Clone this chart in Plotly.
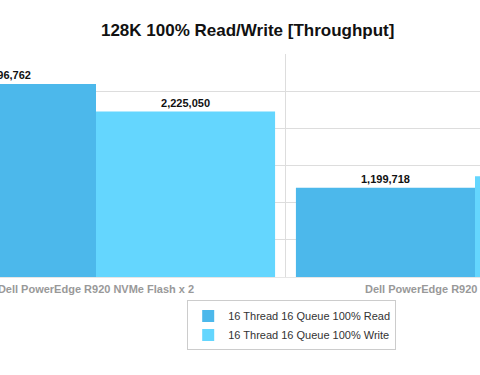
import plotly.graph_objects as go

categories = ["Dell PowerEdge R920 NVMe Flash x 2", "Dell PowerEdge R920 Competitor PCIe x 2"]
series_names = ["16 Thread 16 Queue 100% Read", "16 Thread 16 Queue 100% Write"]
read_values = [2596762, 1199718]
write_values = [2225050, 1356000]
colors = ["#4cb8eb", "#64d6fe"]

fig = go.Figure()
for name, vals, col in zip(series_names, [read_values, write_values], colors):
    fig.add_trace(go.Bar(
        x=categories, y=vals, name=name,
        marker=dict(color=col, line=dict(width=0)),
        text=[f"{v:,}" for v in vals],
        textposition="outside",
        textfont=dict(family="Liberation Sans", size=11, color="#111111", weight="bold"),
        cliponaxis=False,
    ))

fig.update_layout(
    width=480, height=375,
    margin=dict(l=0, r=0, t=54, b=98, autoexpand=False),
    paper_bgcolor="white", plot_bgcolor="white",
    barmode="group", bargap=0.055, bargroupgap=0,
    title=dict(text="<b>128K 100% Read/Write [Throughput]</b>", x=0.516, xanchor="center",
               y=0.92, yanchor="middle",
               font=dict(family="Liberation Sans", size=17, color="#111111")),
    font=dict(family="Liberation Sans"),
    xaxis=dict(range=[-0.2533, 1.0132], tickson="boundaries", showgrid=True, automargin=False,
               gridcolor="#dddddd", gridwidth=1, ticks="", showline=True, linecolor="#e6e6e6",
               ticklabelstandoff=2,
               tickfont=dict(family="Liberation Sans", size=11, color="#999999", weight="bold")),
    yaxis=dict(range=[0, 3000000], dtick=500000, showgrid=True, gridcolor="#dddddd", automargin=False,
               showticklabels=False, zeroline=False, ticks=""),
    legend=dict(x=0.39, y=-0.105, xanchor="left", yanchor="top",
                bordercolor="#cccccc", borderwidth=1,
                font=dict(family="Liberation Sans", size=11, color="#333333"),
                tracegroupgap=0),
)
fig.write_html("out.html")
